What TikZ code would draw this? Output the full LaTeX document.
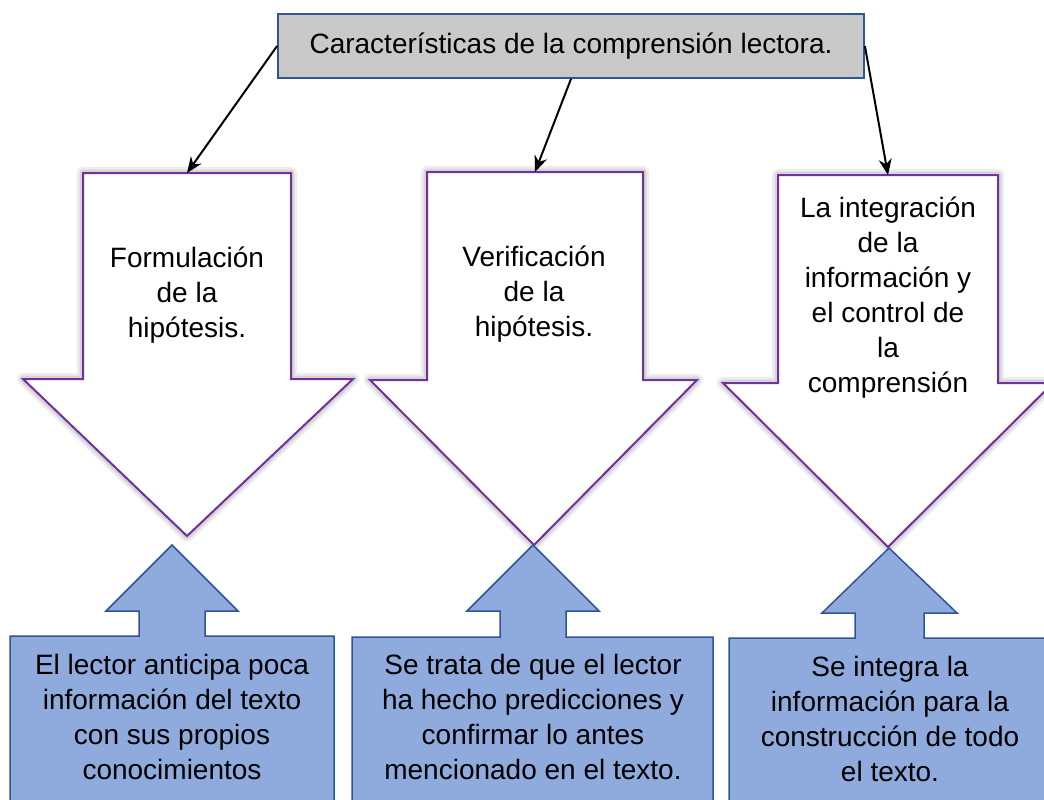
\documentclass[tikz,border=0pt]{standalone}
\usepackage{fontspec}
\setmainfont{Liberation Sans}
\usetikzlibrary{arrows.meta}
\definecolor{moradoborde}{HTML}{7030A0}
\definecolor{azulrelleno}{HTML}{8FAADC}
\definecolor{azulborde}{HTML}{2F5597}
\definecolor{grisrelleno}{HTML}{C9C9C9}
\tikzset{
  texto/.style={font=\fontsize{28}{35}\selectfont, align=center, inner sep=0pt},
  titulo/.style={texto, draw=azulborde, fill=grisrelleno, line width=1.8pt,
    minimum width=586pt, minimum height=64pt},
  bajada/.style={fill=white, draw=moradoborde, line width=2pt,
    preaction={draw=black!7, line width=12pt, line join=round},
    preaction={draw=black!16, line width=7pt, line join=round}},
  subida/.style={fill=azulrelleno, draw=azulborde, line width=1.5pt},
  flecha/.style={-{Stealth[length=16pt,width=13pt]}, line width=2pt},
}
\begin{document}
\begin{tikzpicture}[x=1pt, y=-1pt]
\clip (0,0) rectangle (1044,800);

% flechas hacia abajo
\draw[bajada] (83,173) -- (291,173) -- (291,379) -- (353,379) -- (187,536)
  -- (23,379) -- (83,379) -- cycle;
\draw[bajada] (427,172) -- (643,172) -- (643,380) -- (697,380) -- (534,545)
  -- (370,380) -- (427,380) -- cycle;
\draw[bajada] (778,175) -- (998,175) -- (998,383) -- (1053,383) -- (888,547)
  -- (723,383) -- (778,383) -- cycle;

% flechas hacia arriba
\draw[subida] (172,545) -- (238,611) -- (205,611) -- (205,636) -- (334,636)
  -- (334,812) -- (10,812) -- (10,636) -- (139,636) -- (139,611) -- (106,611) -- cycle;
\draw[subida] (533,545) -- (599,611) -- (566,611) -- (566,637) -- (713,637)
  -- (713,812) -- (352,812) -- (352,637) -- (500,637) -- (500,611) -- (467,611) -- cycle;
\draw[subida] (889,548) -- (957,613) -- (924,613) -- (924,638) -- (1052,638)
  -- (1052,812) -- (729,812) -- (729,638) -- (855,638) -- (855,613) -- (822,613) -- cycle;

\node[titulo] (caracteristicas) at (571,46) {Características de la comprensión lectora.};

\coordinate (formulacion-arriba) at (187,173);
\coordinate (verificacion-arriba) at (535,172);
\coordinate (integracion-arriba) at (888,175);

\node[texto] (formulacion) at (187,295) {Formulación\\de la\\hipótesis.};
\node[texto] (verificacion) at (534,294) {Verificación\\de la\\hipótesis.};
\node[texto] (integracion) at (888,298) {La integración\\de la\\información y\\el control de\\la\\comprensión};

\node[texto] (anticipa) at (172,717) {El lector anticipa poca\\información del texto\\con sus propios\\conocimientos};
\node[texto] (trata) at (533,717) {Se trata de que el lector\\ha hecho predicciones y\\confirmar lo antes\\mencionado en el texto.};
\node[texto] (integra) at (890,719) {Se integra la\\información para la\\construcción de todo\\el texto.};

\draw[flecha] (caracteristicas.west) -- (formulacion-arriba);
\draw[flecha] (caracteristicas.south) -- (verificacion-arriba);
\draw[flecha] (caracteristicas.east) -- (integracion-arriba);
\end{tikzpicture}
\end{document}
